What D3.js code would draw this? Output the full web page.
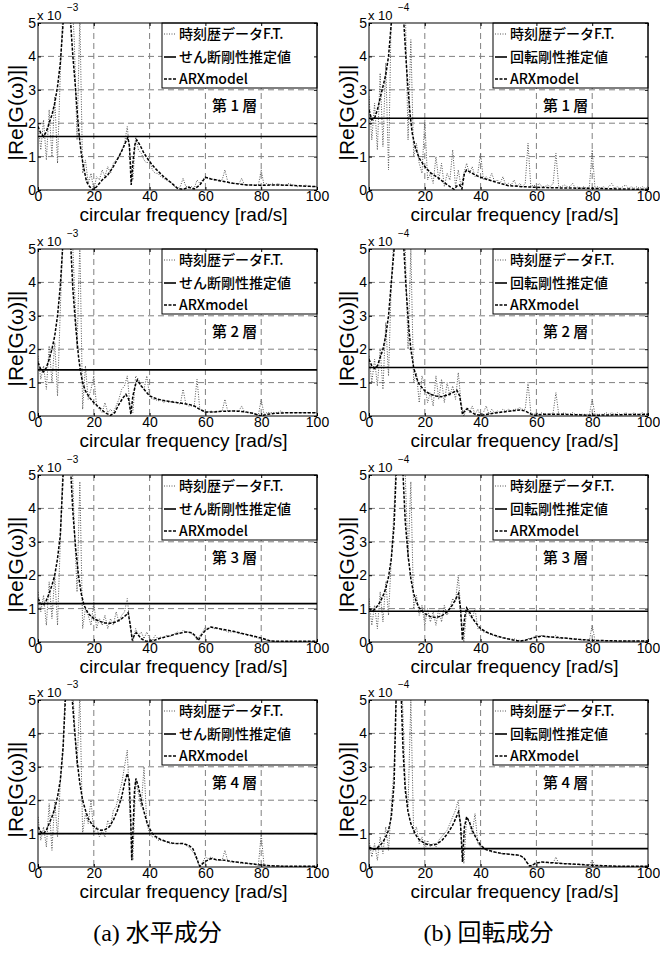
<!DOCTYPE html>
<meta charset="utf-8">
<script src="https://d3js.org/d3.v7.min.js"></script>
<style>
  body { margin: 0; background: #fff; }
</style>
<div id="chart"></div>
<script>

// frequency axis of the measured FT trace [rad/s]
const freqFT = [0,1,2,3,4,5,6,7,8,9,10,11,12,13,14,15,16,17,18,19,20,21,22,23,24,25,26,27,28,29,
  30,31,32,33,34,35,36,37,38,39,40,41,42,43,44,45,46,47,48,49,50,51,52,53,54,55,56,57,58,59,
  60,61,62,63,64,65,66,67,68,69,70,71,72,73,74,75,76,77,78,79,80,81,82,83,84,85,86,87,88,89,
  90,91,92,93,94,95,96,97,98,99,100];

// (a) horizontal component, x 10^-3 : FT of time history
const ftA1 = [2.0,1.2,2.1,0.9,2.4,1.0,2.8,0.8,3.5,5.5,6,6,6,4.5,1.5,5.2,0.5,0.9,0.2,0.5,
  0.0,0.4,0.3,0.6,0.4,0.7,0.5,0.8,0.9,1.0,1.2,1.4,1.9,1.0,0.3,1.6,1.2,1.1,0.9,0.8,
  0.9,0.6,0.5,0.5,0.4,0.35,0.3,0.25,0.2,0.1,0.05,0.1,0.35,0.1,0.1,0.1,0.05,0.3,0.2,0.3,
  0.4,0.35,0.35,0.3,0.3,0.3,0.3,0.6,0.25,0.2,0.2,0.2,0.18,0.35,0.15,0.15,0.15,0.15,0.15,0.15,
  0.6,0.15,0.2,0.15,0.2,0.15,0.2,0.15,0.15,0.15,0.2,0.15,0.15,0.1,0.15,0.1,0.15,0.1,0.1,0.1,0.1];
const ftA2 = [1.8,1.1,1.5,0.8,2.1,1.0,2.2,0.6,3.2,5.5,6,6,6,4.0,2.0,5.2,0.2,1.5,0.5,0.8,
  1.2,0.3,0.2,0.1,0.4,0.1,0.2,0.1,0.3,0.5,0.8,0.9,1.2,0.3,0.1,1.2,1.1,0.9,0.8,1.2,
  0.6,0.5,0.5,0.45,0.5,0.4,0.45,0.4,0.45,0.4,0.4,0.35,0.8,0.35,0.3,0.3,0.3,1.1,0.2,0.15,
  0.1,0.12,0.15,0.12,0.15,0.12,0.15,0.5,0.15,0.15,0.15,0.15,0.15,0.3,0.12,0.1,0.1,0.08,0.05,0.03,
  0.5,0.05,0.1,0.1,0.1,0.1,0.1,0.15,0.1,0.1,0.1,0.1,0.1,0.1,0.1,0.1,0.1,0.1,0.1,0.1,0.1];
const ftA3 = [1.5,0.9,1.4,0.5,1.8,0.7,2.0,0.5,3.0,5.5,6,6,6,3.5,1.5,4.8,0.4,1.0,0.8,0.5,
  1.2,0.4,0.7,0.5,0.8,0.4,0.7,0.5,0.9,0.6,0.8,0.9,1.3,0.5,0.0,0.4,0.2,0.3,0.1,0.3,
  0.1,0.05,0.2,0.1,0.15,0.1,0.2,0.15,0.2,0.25,0.3,0.25,0.35,0.3,0.3,0.25,0.2,0.05,0.2,0.3,
  0.45,0.4,0.45,0.4,0.4,0.4,0.35,0.35,0.3,0.3,0.3,0.3,0.25,0.25,0.25,0.2,0.2,0.15,0.15,0.1,
  0.1,0.08,0.05,0.04,0.03,0.02,0.02,0.02,0.02,0.02,0.02,0.02,0.02,0.02,0.02,0.02,0.02,0.02,0.02,0.02,0.02];
const ftA4 = [1.5,0.8,1.2,0.6,1.9,0.5,2.0,0.9,2.5,3.5,6,6,6,4.5,3.0,5.2,1.0,1.6,1.3,2.0,
  1.0,1.2,0.9,1.1,0.9,1.4,1.2,1.7,1.8,2.2,2.5,3.0,3.5,1.5,0.2,2.6,2.2,1.8,3.0,1.3,
  1.0,0.9,0.9,0.8,0.8,0.8,0.75,0.7,0.7,0.7,0.7,0.7,0.7,0.65,0.6,0.5,0.4,0.2,0.0,0.15,
  0.3,0.25,0.3,0.25,0.2,0.2,0.2,0.5,0.18,0.15,0.15,0.15,0.12,0.12,0.1,0.1,0.1,0.1,0.08,0.05,
  1.0,0.05,0.05,0.04,0.04,0.03,0.03,0.03,0.03,0.02,0.02,0.02,0.02,0.02,0.02,0.02,0.02,0.02,0.02,0.02,0.02];

// (b) rotational component, x 10^-4 : FT of time history
const ftB1 = [2.8,1.5,2.6,1.2,3.5,1.3,3.8,0.6,5.5,6,6,6,6,5.5,1.5,4.5,1.0,1.4,0.8,0.5,
  2.1,0.3,0.5,0.2,1.0,0.3,0.8,0.1,0.5,0.3,1.2,0.1,0.6,0.1,0.5,0.8,0.5,0.7,0.4,0.5,
  1.1,0.3,0.4,0.3,0.5,0.25,0.3,0.2,0.4,0.15,0.2,0.15,0.3,0.1,0.2,0.1,0.2,1.4,0.1,0.15,
  0.1,0.2,0.1,0.1,0.15,0.1,0.2,1.1,0.1,0.1,0.15,0.1,0.1,0.2,0.05,0.1,0.05,0.1,0.05,0.1,
  1.2,0.05,0.1,0.05,0.1,0.05,0.1,0.2,0.05,0.1,0.05,0.1,0.15,0.05,0.1,0.05,0.1,0.05,0.1,0.05,0.1];
const ftB2 = [1.8,1.0,1.7,0.9,2.0,0.8,2.8,1.2,4.0,5.5,6,6,6,5.0,2.0,5.0,1.0,1.3,0.4,1.2,
  0.9,0.4,0.7,0.3,1.2,0.5,1.1,0.4,1.0,0.6,0.9,0.5,1.3,0.4,0.0,0.25,0.1,0.3,0.05,0.2,
  0.0,0.1,0.3,0.05,0.2,0.1,0.15,0.1,0.2,0.15,0.2,0.15,0.2,0.2,0.25,0.2,0.2,1.0,0.1,0.05,
  0.1,0.05,0.1,0.05,0.05,0.05,0.1,0.7,0.05,0.05,0.1,0.05,0.05,0.1,0.05,0.05,0.05,0.05,0.05,0.05,
  0.5,0.05,0.05,0.05,0.05,0.1,0.05,0.1,0.05,0.1,0.05,0.05,0.1,0.05,0.05,0.1,0.05,0.05,0.1,0.05,0.05];
const ftB3 = [1.3,0.5,1.1,0.4,1.5,0.6,1.8,0.8,2.5,4.0,6,6,6,5.0,2.5,4.8,1.0,1.4,0.8,1.1,
  0.5,1.0,0.6,0.9,0.5,1.0,0.6,1.1,0.8,1.0,1.3,1.2,2.0,0.8,0.0,1.0,0.8,0.7,1.0,0.4,
  0.4,0.3,0.3,0.25,0.2,0.2,0.15,0.15,0.12,0.1,0.1,0.08,0.1,0.05,0.05,0.03,0.05,0.1,0.1,0.15,
  0.2,0.15,0.2,0.15,0.15,0.15,0.15,0.2,0.12,0.1,0.12,0.1,0.1,0.08,0.1,0.08,0.06,0.06,0.06,0.05,
  0.5,0.05,0.05,0.04,0.04,0.04,0.04,0.03,0.03,0.03,0.03,0.03,0.03,0.03,0.03,0.03,0.03,0.03,0.03,0.03,0.03];
const ftB4 = [0.8,0.3,0.7,0.2,0.9,0.4,1.2,0.5,1.8,3.0,6,6,5.0,2.5,1.8,5.0,1.0,1.2,0.7,0.9,
  0.5,0.8,0.6,0.7,0.6,0.8,0.9,1.0,1.1,1.3,1.5,1.7,2.0,1.0,0.1,1.5,1.3,1.0,1.6,0.7,
  0.6,0.55,0.5,0.5,0.45,0.45,0.42,0.4,0.4,0.4,0.38,0.38,0.36,0.35,0.35,0.3,0.2,0.1,0.0,0.1,
  0.15,0.12,0.15,0.13,0.13,0.12,0.12,0.3,0.1,0.1,0.1,0.1,0.08,0.08,0.08,0.07,0.07,0.06,0.05,0.05,
  0.2,0.04,0.04,0.03,0.03,0.03,0.03,0.03,0.02,0.02,0.02,0.02,0.02,0.02,0.02,0.02,0.02,0.02,0.02,0.02,0.02];

// identified stiffness (constant lines), story 1..4
const kA = [1.6, 1.38, 1.15, 1.0];
const kB = [2.15, 1.45, 0.92, 0.55];

// ARX model curves [freq, value]
const arxA1 = [[0,1.9],[1,1.7],[2,1.6],[3,1.75],[4,2.0],[5,2.25],[6,2.6],[7,3.1],[8,3.8],[9,5.0],[10,8],[11,8],
  [11.7,5.0],[12.5,4.0],[13.3,3.2],[14,2.4],[14.8,1.6],[15.5,1.1],[16.3,0.7],[17.4,0.25],[18.5,0.1],[19.8,0.0],
  [21,0.1],[23,0.3],[25,0.45],[27,0.7],[29,1.0],[30.5,1.25],[31.5,1.45],[32.2,1.58],[32.8,1.3],[33.4,0.15],
  [34,0.8],[34.7,1.35],[35.4,1.5],[36.5,1.35],[38,1.1],[40,0.85],[42,0.65],[45,0.4],[48,0.2],[50,0.05],
  [52,0.02],[54,0.08],[56,0.03],[58,0.15],[60,0.38],[62,0.33],[65,0.28],[70,0.2],[75,0.15],[80,0.14],
  [85,0.15],[90,0.14],[95,0.12],[100,0.1]];
const arxA2 = [[0,1.6],[1,1.4],[2,1.32],[3,1.45],[4,1.7],[5,2.0],[6,2.4],[7,3.0],[8,3.9],[8.8,5.0],[10,8],[11,8],
  [11.8,5.0],[12.5,3.8],[13.5,2.7],[14.5,1.8],[15.2,1.35],[16,1.0],[17,0.75],[18.5,0.55],[20,0.4],[22,0.25],
  [24,0.1],[26,0.02],[27.5,0.1],[29,0.35],[30.5,0.55],[31.5,0.65],[32.5,0.5],[33.3,0.05],[34,0.6],[35,0.95],
  [35.6,1.08],[37,0.9],[38.5,0.75],[40,0.6],[43,0.5],[46,0.45],[50,0.4],[54,0.35],[56,0.3],[58,0.2],[60,0.12],
  [63,0.12],[66,0.14],[70,0.15],[74,0.13],[77,0.08],[80,0.0],[82,0.05],[85,0.08],[90,0.1],[95,0.1],[100,0.1]];
const arxA3 = [[0,1.3],[1,1.15],[2,1.1],[3,1.25],[4,1.45],[5,1.7],[6,2.0],[7,2.5],[8,3.2],[9,5.0],[10,8],[11,8],
  [11.8,5.0],[12.5,3.9],[13.5,2.8],[14.5,2.0],[15.5,1.45],[16.5,1.1],[18,0.85],[20,0.7],[22,0.62],[24,0.57],
  [26,0.56],[28,0.6],[30,0.7],[31.5,0.8],[32.3,0.88],[33,0.55],[33.8,0.05],[34.5,0.2],[35.2,0.28],[36,0.2],
  [37,0.1],[38.5,0.03],[40,0.02],[42,0.06],[44,0.12],[47,0.18],[50,0.25],[53,0.3],[55,0.28],[56.5,0.18],
  [57.5,0.05],[58.5,0.2],[60,0.35],[62,0.45],[65,0.4],[70,0.32],[75,0.22],[80,0.12],[83,0.04],[85,0.02],
  [90,0.02],[100,0.02]];
const arxA4 = [[0,1.2],[1,1.05],[2,1.0],[3,1.1],[4,1.3],[5,1.5],[6,1.75],[7,2.1],[8,2.6],[9,3.6],[9.8,5.0],
  [10.5,8],[11.5,8],[12.3,5.0],[13,4.2],[14,3.2],[15,2.5],[16,2.0],[17,1.7],[18,1.45],[19.5,1.25],[21,1.15],
  [22.5,1.1],[24,1.12],[25.5,1.2],[27,1.4],[28.5,1.7],[30,2.1],[31,2.5],[32,2.8],[32.7,2.6],[33.2,1.5],
  [33.6,0.2],[34.1,1.2],[34.6,2.3],[35.1,2.65],[36,2.4],[37,2.0],[38,1.65],[39,1.35],[40,1.15],[41,1.0],
  [42,0.92],[44,0.82],[46,0.76],[48,0.72],[50,0.7],[52,0.7],[54,0.65],[55.5,0.55],[56.5,0.35],[57.5,0.12],
  [58,0.02],[59,0.1],[60,0.17],[62,0.25],[64,0.22],[67,0.2],[70,0.16],[75,0.11],[80,0.06],[85,0.03],
  [90,0.02],[100,0.02]];
const arxB1 = [[0,2.4],[1,2.1],[2,2.15],[3,2.4],[4,2.75],[5,3.1],[6,3.45],[7,4.0],[8,5.0],[9,8],[11.5,8],
  [12.5,5.0],[13.2,4.0],[14,3.0],[14.8,2.2],[15.5,1.7],[16.5,1.3],[18,0.95],[20,0.7],[22,0.52],[25,0.35],
  [27,0.22],[29,0.1],[30.5,0.02],[31.5,0.12],[32.5,0.15],[33.3,0.03],[34.2,0.5],[35,0.6],[36,0.55],[38,0.45],
  [40,0.38],[43,0.3],[46,0.22],[50,0.13],[55,0.1],[60,0.08],[65,0.07],[70,0.06],[80,0.05],[90,0.03],[100,0.02]];
const arxB2 = [[0,1.7],[1,1.5],[2,1.42],[3,1.5],[4,1.75],[5,2.0],[6,2.4],[7,3.0],[8,4.0],[9,5.0],[10,8],
  [11.5,8],[12.5,5.0],[13.3,3.8],[14.2,2.7],[15,2.0],[16,1.45],[17,1.15],[18,0.95],[20,0.75],[22,0.65],
  [24,0.6],[26,0.58],[28,0.62],[30,0.7],[31.5,0.77],[32.5,0.6],[33.5,0.05],[34.5,0.18],[35.3,0.22],
  [36.5,0.12],[38,0.05],[40,0.02],[43,0.06],[46,0.1],[50,0.14],[54,0.18],[56,0.15],[58,0.06],[59.5,0.02],
  [62,0.05],[70,0.05],[80,0.02],[90,0.04],[100,0.05]];
const arxB3 = [[0,1.0],[1,0.93],[2,0.97],[3,1.08],[4,1.2],[5,1.38],[6,1.6],[7,1.95],[8,2.5],[9,3.5],[9.7,5.0],
  [10.5,8],[11.5,8],[12.2,5.0],[13,3.6],[14,2.6],[15,1.9],[16,1.45],[17,1.2],[18,1.02],[20,0.85],[22,0.76],
  [24,0.73],[26,0.78],[28,0.9],[30,1.12],[31.3,1.32],[32.1,1.45],[32.8,1.0],[33.5,0.05],[34.3,0.75],[35,1.02],
  [36,0.9],[37,0.72],[38.5,0.55],[40,0.4],[42,0.3],[45,0.2],[48,0.13],[51,0.07],[54,0.03],[56,0.05],[58,0.1],
  [60,0.15],[62,0.18],[65,0.15],[70,0.12],[75,0.08],[80,0.05],[90,0.03],[100,0.03]];
const arxB4 = [[0,0.6],[1,0.55],[2,0.53],[3,0.58],[4,0.65],[5,0.75],[6,0.9],[7,1.1],[8,1.5],[9,2.5],[9.7,5.0],
  [10.3,8],[11,8],[11.6,5.0],[12.2,3.5],[13,2.3],[14,1.65],[15,1.3],[16,1.1],[17,0.93],[18,0.82],[20,0.7],
  [22,0.66],[24,0.68],[26,0.78],[28,0.98],[30,1.25],[31.3,1.5],[32.1,1.65],[32.8,1.3],[33.5,0.15],[34.2,1.2],
  [35,1.5],[36,1.35],[37,1.1],[38.5,0.85],[40,0.65],[42,0.52],[45,0.45],[48,0.4],[52,0.37],[54,0.35],
  [55.5,0.28],[56.5,0.15],[57.5,0.03],[58.5,0.05],[60,0.12],[62,0.15],[65,0.13],[70,0.1],[75,0.08],[80,0.05],
  [90,0.02],[100,0.02]];

// labels
const xTicks = [0, 20, 40, 60, 80, 100];
const yTicks = [0, 1, 2, 3, 4, 5];
const storyLabels = ["第 1 層", "第 2 層", "第 3 層", "第 4 層"];
const legendA = ["時刻歴データF.T.", "せん断剛性推定値", "ARXmodel"];
const legendB = ["時刻歴データF.T.", "回転剛性推定値", "ARXmodel"];
const exponents = ["-3", "-4"];
const captions = ["(a) 水平成分", "(b) 回転成分"];

// layout
const W = 660, H = 953;
const colX = [38, 369], rowY = [23, 249, 475, 700];
const pw = 279, ph = 167;
const latin = "'Liberation Sans', Arial, sans-serif";
const cjk = "'Noto Sans CJK JP', sans-serif";

const svg = d3.select("#chart").append("svg")
  .attr("width", W).attr("height", H)
  .style("background", "#fff");
const defs = svg.append("defs");

const panels = [
  {col: 0, row: 0, ft: ftA1, k: kA[0], arx: arxA1},
  {col: 0, row: 1, ft: ftA2, k: kA[1], arx: arxA2},
  {col: 0, row: 2, ft: ftA3, k: kA[2], arx: arxA3},
  {col: 0, row: 3, ft: ftA4, k: kA[3], arx: arxA4},
  {col: 1, row: 0, ft: ftB1, k: kB[0], arx: arxB1},
  {col: 1, row: 1, ft: ftB2, k: kB[1], arx: arxB2},
  {col: 1, row: 2, ft: ftB3, k: kB[2], arx: arxB3},
  {col: 1, row: 3, ft: ftB4, k: kB[3], arx: arxB4}
];

const x = d3.scaleLinear().domain([0, 100]).range([0, pw]);
const y = d3.scaleLinear().domain([0, 5]).range([ph, 0]);

panels.forEach(function(p) {
  const id = "clip" + p.col + p.row;
  defs.append("clipPath").attr("id", id)
    .append("rect").attr("width", pw).attr("height", ph);

  const g = svg.append("g")
    .attr("transform", `translate(${colX[p.col]},${rowY[p.row]})`);

  g.append("rect").attr("width", pw).attr("height", ph).attr("fill", "#fff");

  // grid
  g.append("g").selectAll("line")
    .data(xTicks.slice(1, -1)).join("line")
      .attr("x1", d => x(d)).attr("x2", d => x(d))
      .attr("y1", 0).attr("y2", ph)
      .attr("stroke", "#808080").attr("stroke-dasharray", "6,4");
  g.append("g").selectAll("line")
    .data(yTicks.slice(1, -1)).join("line")
      .attr("y1", d => y(d)).attr("y2", d => y(d))
      .attr("x1", 0).attr("x2", pw)
      .attr("stroke", "#808080").attr("stroke-dasharray", "6,4");

  const plot = g.append("g").attr("clip-path", `url(#${id})`);

  // FT of time history: dotted grey
  plot.append("path")
    .datum(p.ft)
    .attr("d", d3.line().x((d, i) => x(freqFT[i])).y(d => y(d)))
    .attr("fill", "none").attr("stroke", "#555")
    .attr("stroke-width", 1).attr("stroke-dasharray", "1,1.5");

  // identified stiffness: solid
  plot.append("path")
    .datum([[0, p.k], [100, p.k]])
    .attr("d", d3.line().x(d => x(d[0])).y(d => y(d[1])))
    .attr("fill", "none").attr("stroke", "#000").attr("stroke-width", 1.6);

  // ARX model: dashed
  plot.append("path")
    .datum(p.arx)
    .attr("d", d3.line().x(d => x(d[0])).y(d => y(d[1])))
    .attr("fill", "none").attr("stroke", "#000")
    .attr("stroke-width", 1.5).attr("stroke-dasharray", "3,1.5");

  // legend
  const lw = 155, lh = 65;
  const leg = g.append("g").attr("transform", `translate(${pw - lw},0)`);
  leg.append("rect").attr("width", lw).attr("height", lh)
    .attr("fill", "#fff").attr("stroke", "#000").attr("stroke-width", 1);
  const names = p.col === 0 ? legendA : legendB;
  const styles = [
    {stroke: "#555", dash: "1,1.5", w: 1},
    {stroke: "#000", dash: null, w: 1.6},
    {stroke: "#000", dash: "3,1.5", w: 1.5}
  ];
  const rowsY = [11, 34, 56];
  names.forEach(function(n, i) {
    leg.append("line")
      .attr("x1", 2).attr("x2", 14).attr("y1", rowsY[i]).attr("y2", rowsY[i])
      .attr("stroke", styles[i].stroke).attr("stroke-width", styles[i].w)
      .attr("stroke-dasharray", styles[i].dash);
    leg.append("text")
      .attr("x", 17).attr("y", rowsY[i]).attr("dy", "0.36em")
      .style("font-family", cjk).style("font-size", "14px").style("font-weight", 500)
      .text(n);
  });

  // story label
  g.append("text")
    .attr("x", x(70.5)).attr("y", 83).attr("dy", "0.36em")
    .attr("text-anchor", "middle")
    .style("font-family", cjk).style("font-size", "15px").style("font-weight", 500)
    .text(storyLabels[p.row]);

  // frame
  g.append("rect").attr("width", pw).attr("height", ph)
    .attr("fill", "none").attr("stroke", "#000").attr("stroke-width", 1);

  // axes with inward ticks
  const ax = g.append("g").attr("transform", `translate(0,${ph})`)
    .call(d3.axisBottom(x).tickValues(xTicks).tickFormat(d3.format("d"))
      .tickSizeInner(-3).tickSizeOuter(0).tickPadding(1));
  const ay = g.append("g")
    .call(d3.axisLeft(y).tickValues(yTicks).tickFormat(d3.format("d"))
      .tickSizeInner(-3).tickSizeOuter(0).tickPadding(2));
  g.append("g")
    .call(d3.axisTop(x).tickValues(xTicks).tickSizeInner(-3).tickSizeOuter(0).tickFormat(""));
  g.append("g").attr("transform", `translate(${pw},0)`)
    .call(d3.axisRight(y).tickValues(yTicks).tickSizeInner(-3).tickSizeOuter(0).tickFormat(""));
  g.selectAll(".domain").remove();
  g.selectAll(".tick line").attr("stroke", "#000");
  [ax, ay].forEach(a => a.selectAll("text")
    .style("font-family", latin).style("font-size", "14px").attr("fill", "#000"));

  // exponent
  g.append("text").attr("x", -1).attr("y", -3)
    .style("font-family", latin).style("font-size", "13px").text("x 10");
  g.append("text").attr("x", 29).attr("y", -12)
    .style("font-family", latin).style("font-size", "10px").text("\u2212" + exponents[p.col].slice(1));

  // axis labels
  g.append("text")
    .attr("x", pw / 2 + 6).attr("y", ph + 31)
    .attr("text-anchor", "middle")
    .style("font-family", latin).style("font-size", "19px")
    .text("circular frequency [rad/s]");
  g.append("text")
    .attr("transform", "rotate(-90)")
    .attr("x", -(ph / 2 + 6)).attr("y", -15)
    .attr("text-anchor", "middle")
    .style("font-family", latin).style("font-size", "21px")
    .text("|Re[G(\u03C9)]|");
});

// captions
captions.forEach(function(c, i) {
  svg.append("text")
    .attr("x", colX[i] + pw / 2 - 20).attr("y", 941)
    .attr("text-anchor", "middle")
    .style("font-family", "'Liberation Serif', 'Noto Sans CJK JP', serif").style("font-size", "24px")
    .text(c);
});

</script>
